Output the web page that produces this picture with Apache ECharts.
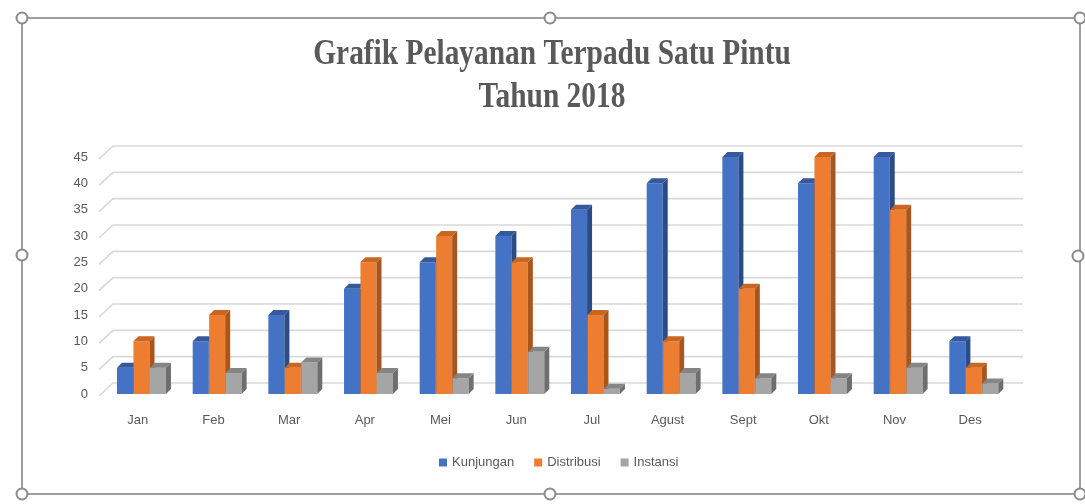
<!DOCTYPE html>
<html>
<head>
<meta charset="utf-8">
<script src="https://cdn.jsdelivr.net/npm/echarts@6/dist/echarts.min.js"></script>
<style>
  html, body { margin: 0; padding: 0; background: #fff; }
  #main { width: 1085px; height: 504px; }
</style>
</head>
<body>
<div id="main"></div>
<script>
// data
var months = ['Jan', 'Feb', 'Mar', 'Apr', 'Mei', 'Jun', 'Jul', 'Agust', 'Sept', 'Okt', 'Nov', 'Des'];
var kunjungan = [5, 10, 15, 20, 25, 30, 35, 40, 45, 40, 45, 10];
var distribusi = [10, 15, 5, 25, 30, 25, 15, 10, 20, 45, 35, 5];
var instansi = [5, 4, 6, 4, 3, 8, 1, 4, 3, 3, 5, 2];
var yTicks = [0, 5, 10, 15, 20, 25, 30, 35, 40, 45];

var narrow = "'Liberation Sans Narrow', 'Liberation Sans', sans-serif";
var depthX = 13, depthY = 11;   // back wall offset
var bd = 5;                     // bar depth

// colours: front, side, top
var pal = [
  ['#4472C4', '#2C4C86', '#35599C'],
  ['#ED7D31', '#A9561E', '#C86622'],
  ['#A5A5A5', '#6E6E6E', '#858585']
];

function toPairs(arr) {
  return arr.map(function (v, i) { return [i, v]; });
}

// 3d-ish bar: front face + side + top
function barRender(k) {
  var c = pal[k];
  return function (params, api) {
    var i = api.value(0), v = api.value(1);
    var base = api.coord([i, 0]);
    var top = api.coord([i, v]);
    var band = api.size([1, 0])[0];
    var w = band * 0.212;
    var x0 = base[0] - band * 0.275 + k * (w + 0.4);
    var y0 = top[1], y1 = base[1];
    return {
      type: 'group',
      children: [
        { type: 'rect', shape: { x: x0, y: y0, width: w, height: y1 - y0 }, style: { fill: c[0] } },
        { type: 'polygon', shape: { points: [[x0 + w, y0], [x0 + w + bd, y0 - bd], [x0 + w + bd, y1 - bd], [x0 + w, y1]] }, style: { fill: c[1] } },
        { type: 'polygon', shape: { points: [[x0, y0], [x0 + bd, y0 - bd], [x0 + w + bd, y0 - bd], [x0 + w, y0]] }, style: { fill: c[2] } }
      ]
    };
  };
}

// gridlines on back wall with slanted side edge
function gridRender(params, api) {
  var y = api.coord([0, api.value(1)])[1];
  var cs = params.coordSys;
  return {
    type: 'polyline',
    shape: { points: [[cs.x - 1, y + 2], [cs.x + depthX, y - depthY], [cs.x + cs.width + depthX + 2, y - depthY]] },
    style: { stroke: '#D9D9D9', lineWidth: 1.6, fill: null }
  };
}

var chart = echarts.init(document.getElementById('main'));

var handles = [[22, 18], [550, 18], [1080, 18], [22, 255], [1078, 256], [22, 494], [550, 494], [1080, 494]];

var option = {
  backgroundColor: '#fff',
  animation: false,
  grid: { left: 100, right: 77, top: 157, bottom: 110 },
  legend: {
    data: ['Kunjungan', 'Distribusi', 'Instansi'],
    bottom: 30,
    left: 434,
    icon: 'rect',
    itemWidth: 8,
    itemHeight: 8,
    itemGap: 20,
    textStyle: { color: '#595959', fontSize: 13, fontFamily: narrow }
  },
  xAxis: {
    type: 'category',
    data: months,
    axisLine: { show: false },
    axisTick: { show: false },
    axisLabel: { color: '#595959', fontSize: 13, fontFamily: narrow, margin: 20 }
  },
  yAxis: {
    type: 'value',
    min: 0,
    max: 45,
    interval: 5,
    axisLine: { show: false },
    axisTick: { show: false },
    splitLine: { show: false },
    axisLabel: { color: '#595959', fontSize: 13, fontFamily: narrow, margin: 12 }
  },
  series: [
    { type: 'custom', name: 'grid', data: yTicks.map(function (t) { return [0, t]; }), renderItem: gridRender, silent: true, z: 1 },
    { type: 'custom', name: 'Kunjungan', data: toPairs(kunjungan), renderItem: barRender(0), itemStyle: { color: pal[0][0] }, z: 2 },
    { type: 'custom', name: 'Distribusi', data: toPairs(distribusi), renderItem: barRender(1), itemStyle: { color: pal[1][0] }, z: 3 },
    { type: 'custom', name: 'Instansi', data: toPairs(instansi), renderItem: barRender(2), itemStyle: { color: pal[2][0] }, z: 4 }
  ],
  graphic: [
    {
      type: 'text', x: 552, y: 55, scaleX: 0.84, originX: 0, originY: 0,
      style: { text: 'Grafik Pelayanan Terpadu Satu Pintu', fill: '#595959', font: "bold 35px 'Liberation Serif', serif", textAlign: 'center', textVerticalAlign: 'middle' }
    },
    {
      type: 'text', x: 552, y: 98, scaleX: 0.84, originX: 0, originY: 0,
      style: { text: 'Tahun 2018', fill: '#595959', font: "bold 35px 'Liberation Serif', serif", textAlign: 'center', textVerticalAlign: 'middle' }
    },
    { type: 'rect', shape: { x: 22, y: 18, width: 1058, height: 476 }, style: { fill: null, stroke: '#9E9E9E', lineWidth: 2 }, z: 10 }
  ].concat(handles.map(function (h) {
    return { type: 'circle', shape: { cx: h[0], cy: h[1], r: 5.5 }, style: { fill: '#fff', stroke: '#8A8A8A', lineWidth: 2 }, z: 11 };
  }))
};

chart.setOption(option);
</script>
</body>
</html>
